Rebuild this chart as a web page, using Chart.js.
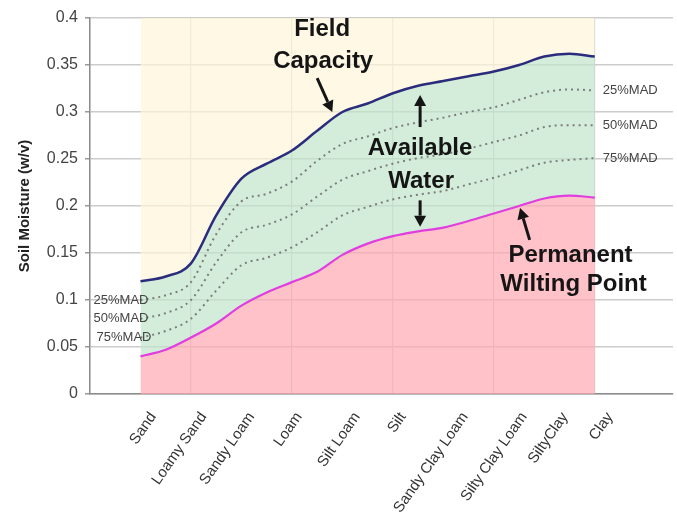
<!DOCTYPE html>
<html>
<head>
<meta charset="utf-8">
<title>Soil Moisture - Available Water</title>
<script src="https://cdn.jsdelivr.net/npm/chart.js@4.4.0/dist/chart.umd.min.js"></script>
<style>
  html, body { margin: 0; padding: 0; background: #fff; overflow: hidden; }
  #container { width: 677px; height: 512px; }
</style>
</head>
<body>

<div id="container">
  <canvas id="canvas"></canvas></div>
<script>

// soil texture classes and where their labels sit on the x axis
var soilTypes = ['Sand', 'Loamy Sand', 'Sandy Loam', 'Loam', 'Silt Loam', 'Silt',
                 'Sandy Clay Loam', 'Silty Clay Loam', 'SiltyClay', 'Clay'];
var labelAt = [1.25, 2.25, 3.2, 4.14, 5.29, 6.2, 7.43, 8.6, 9.41, 10.3];

// sample positions along the texture axis (Sand = 1 ... Clay = 10)
var xs = [1, 1.5, 2, 2.5, 3, 3.5, 4, 4.5, 5, 5.5, 6, 6.5, 7, 7.5, 8, 8.5, 9, 9.5, 10];

// soil moisture (w/v)
var fieldCapacity = [0.12, 0.125, 0.139, 0.19, 0.229, 0.245, 0.259, 0.28, 0.30, 0.309,
                     0.32, 0.328, 0.333, 0.338, 0.343, 0.35, 0.359, 0.362, 0.359];
var wiltingPoint  = [0.04, 0.047, 0.06, 0.075, 0.094, 0.108, 0.119, 0.13, 0.148, 0.16,
                     0.168, 0.173, 0.177, 0.184, 0.192, 0.2, 0.208, 0.211, 0.209];
var mad25 = [0.10, 0.105, 0.119, 0.17, 0.205, 0.213, 0.226, 0.248, 0.266, 0.274,
             0.283, 0.289, 0.294, 0.30, 0.305, 0.313, 0.321, 0.324, 0.323];
var mad50 = [0.08, 0.086, 0.10, 0.14, 0.172, 0.18, 0.191, 0.21, 0.228, 0.237,
             0.245, 0.251, 0.255, 0.261, 0.268, 0.275, 0.284, 0.286, 0.286];
var mad75 = [0.06, 0.067, 0.08, 0.11, 0.137, 0.145, 0.156, 0.172, 0.19, 0.199,
             0.207, 0.212, 0.216, 0.223, 0.23, 0.238, 0.246, 0.249, 0.251];
var madNames = ['25%MAD', '50%MAD', '75%MAD'];

function pts(arr) {
  return xs.map(function (x, i) { return { x: x, y: arr[i] }; });
}

// text + arrows laid over the plot, in data units
var bigLabels = [
  { t: 'Field', x: 4.6, y: 0.388 }, { t: 'Capacity', x: 4.62, y: 0.354 },
  { t: 'Available', x: 6.54, y: 0.261 }, { t: 'Water', x: 6.56, y: 0.226 },
  { t: 'Permanent', x: 9.52, y: 0.148 }, { t: 'Wilting Point', x: 9.58, y: 0.117 }
];
var arrows = [
  { from: [4.5, 0.336], to: [4.8, 0.30] },
  { from: [6.54, 0.284], to: [6.54, 0.318] },
  { from: [6.54, 0.206], to: [6.54, 0.178] },
  { from: [8.71, 0.164], to: [8.52, 0.198] }
];

var notes = {
  id: 'notes',
  afterDatasetsDraw: function (chart) {
    var ctx = chart.ctx, sx = chart.scales.x, sy = chart.scales.y;
    function px(v) { return sx.getPixelForValue(v); }
    function py(v) { return sy.getPixelForValue(v); }
    ctx.save();

    ctx.fillStyle = '#151515';
    ctx.font = 'bold 24px "Liberation Sans", Arial, sans-serif';
    ctx.textAlign = 'center';
    ctx.textBaseline = 'middle';
    bigLabels.forEach(function (l) { ctx.fillText(l.t, px(l.x), py(l.y)); });

    // arrows
    ctx.strokeStyle = '#151515';
    ctx.lineWidth = 3;
    arrows.forEach(function (a) {
      var x1 = px(a.from[0]), y1 = py(a.from[1]), x2 = px(a.to[0]), y2 = py(a.to[1]);
      var ang = Math.atan2(y2 - y1, x2 - x1), len = 11, hw = 6;
      var bx = x2 - len * Math.cos(ang), by = y2 - len * Math.sin(ang);
      ctx.beginPath();
      ctx.moveTo(x1, y1);
      ctx.lineTo(bx, by);
      ctx.stroke();
      ctx.beginPath();
      ctx.moveTo(x2, y2);
      ctx.lineTo(bx + hw * Math.sin(ang), by - hw * Math.cos(ang));
      ctx.lineTo(bx - hw * Math.sin(ang), by + hw * Math.cos(ang));
      ctx.closePath();
      ctx.fill();
    });

    // MAD labels at both ends of the dotted lines
    ctx.fillStyle = '#444';
    ctx.font = '13px "Liberation Sans", Arial, sans-serif';
    ctx.textAlign = 'left';
    [mad25, mad50, mad75].forEach(function (m, i) {
      ctx.fillText(madNames[i], px(10.16), py(m[m.length - 1]));
      ctx.fillText(madNames[i], px(0.07 + (i == 2 ? 0.06 : 0)), py(m[0]));
    });
    ctx.restore();
  }
};

Chart.defaults.font.family = '"Liberation Sans", Arial, sans-serif';

var madStyle = { borderColor: '#7d7d7d', borderWidth: 2, borderDash: [2, 4], fill: false };

var ctx = document.getElementById('canvas').getContext('2d');
window.soilChart = new Chart(ctx, {
  type: 'line',
  data: {
    datasets: [
      // cream background above field capacity
      { data: pts(fieldCapacity), fill: 'end', backgroundColor: 'rgba(254,245,218,0.7)', borderWidth: 0 },
      { data: pts(fieldCapacity), fill: 2, backgroundColor: 'rgba(193,229,202,0.7)',
        borderColor: '#2b2d7c', borderWidth: 2.5 },
      { data: pts(wiltingPoint), fill: 'origin', backgroundColor: 'rgba(255,168,178,0.7)',
        borderColor: '#e03ede', borderWidth: 2.2 },
      Object.assign({ data: pts(mad25) }, madStyle),
      Object.assign({ data: pts(mad50) }, madStyle),
      Object.assign({ data: pts(mad75) }, madStyle)
    ]
  },
  options: {
    responsive: true,
    maintainAspectRatio: false,
    animation: false,
    layout: { padding: { left: 12, right: 4, top: 18, bottom: 0 } },
    elements: {
      point: { radius: 0 },
      line: { cubicInterpolationMode: 'monotone' }
    },
    plugins: {
      legend: { display: false },
      tooltip: { enabled: false },
      filler: { drawTime: 'beforeDatasetsDraw' }
    },
    scales: {
      x: {
        type: 'linear', position: 'bottom', min: 0, max: 11.55, weight: 0,
        ticks: { display: false, stepSize: 2, includeBounds: false },
        grid: { color: '#d4d4d4', lineWidth: 1.2, drawTicks: false },
        border: { color: '#8c8c8c', width: 1.5 },
        afterFit: function (s) { s.height = 0; }
      },
      xl: {
        type: 'linear', position: 'bottom', min: 0, max: 11.55, weight: 1,
        grid: { display: false, drawTicks: false },
        border: { display: false },
        afterBuildTicks: function (s) {
          s.ticks = labelAt.map(function (v) { return { value: v }; });
        },
        ticks: {
          autoSkip: false, minRotation: 55, maxRotation: 55, padding: 15,
          color: '#333', font: { size: 15 },
          callback: function (v, i) { return soilTypes[i]; }
        },
        afterFit: function (s) { s.height = 118; }
      },
      y: {
        min: 0, max: 0.4,
        ticks: {
          stepSize: 0.05, padding: 7, color: '#444', font: { size: 16 },
          callback: function (v) { return String(+v.toFixed(2)); }
        },
        grid: { color: '#cccccc', lineWidth: 1.5, tickLength: 5, tickColor: '#999' },
        border: { color: '#8c8c8c', width: 1.5 },
        title: {
          display: true, text: 'Soil Moisture (w/v)', color: '#222',
          font: { size: 15, weight: 'bold' }, padding: { top: 4, bottom: 0 }
        },
        afterFit: function (s) { s.width = 78; }
      }
    }
  },
  plugins: [notes]
});

</script>

</body>
</html>
